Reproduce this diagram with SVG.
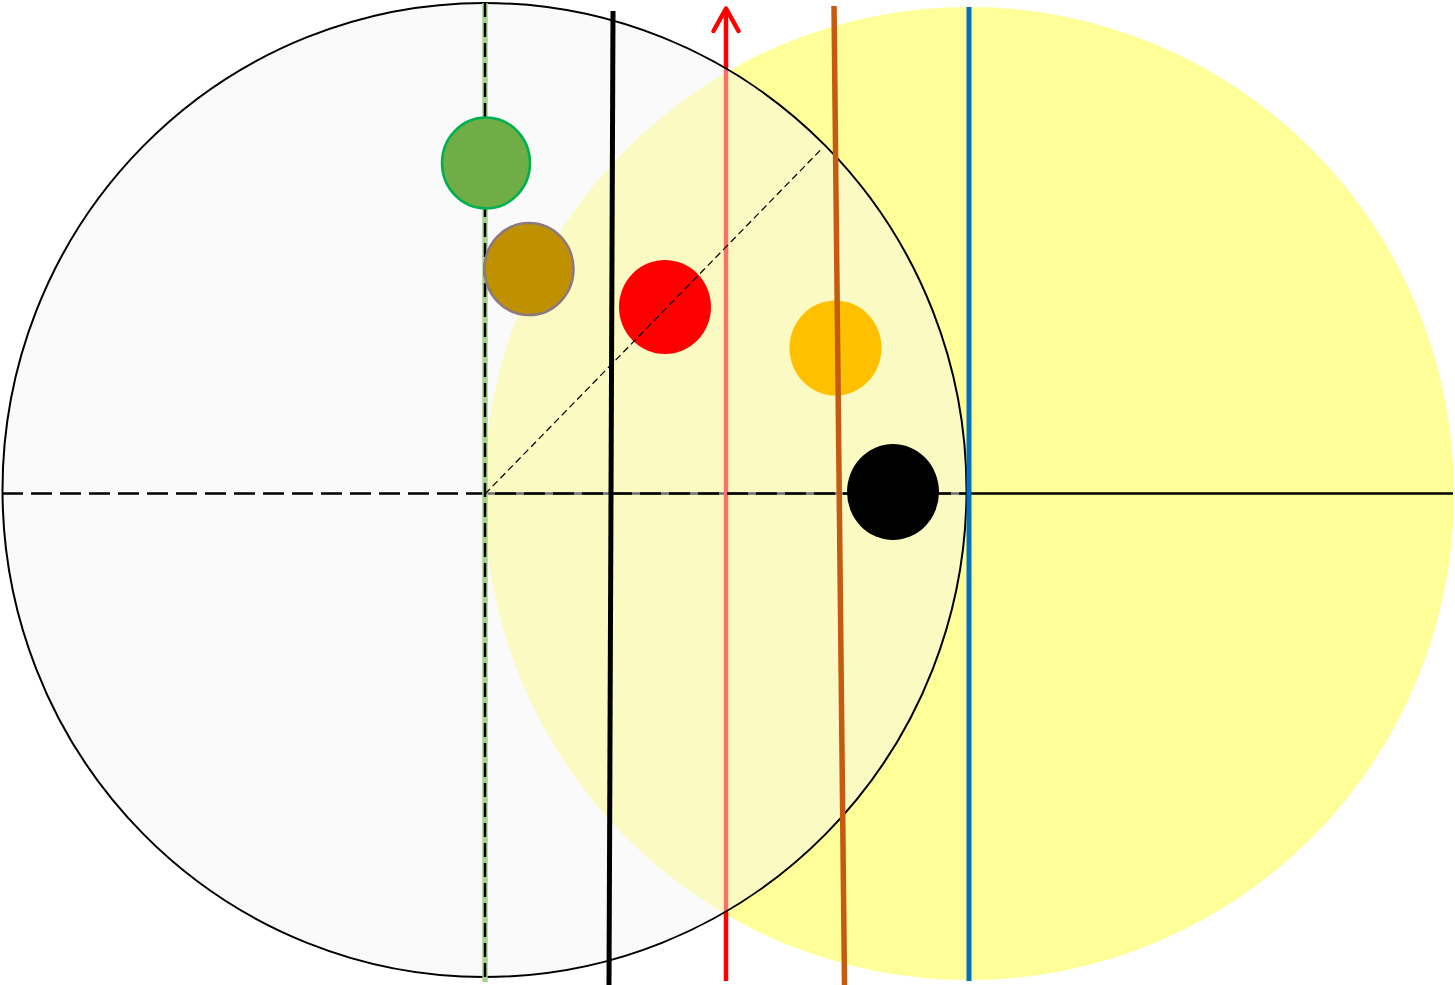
<svg xmlns="http://www.w3.org/2000/svg" width="1455" height="985" viewBox="0 0 1455 985">
<style>
.axis{stroke:#000;stroke-width:2.5;fill:none}
.dash{stroke-dasharray:21 8}
.ball{stroke:none}
.orange-line{stroke:#c55a11;stroke-width:5.5}
</style>
<rect width="1455" height="985" fill="#ffffff"/>
<g id="yellow-circle">
<ellipse cx="969" cy="493.5" rx="485" ry="486.5" fill="#ffff99"/>
</g>
<g id="connectors">
<line x1="485" y1="493.5" x2="1453" y2="493.5" class="axis"/>
<line x1="726" y1="981" x2="726" y2="12" stroke="#ff0000" stroke-width="4.5"/>
<path d="M713.5,31 L726,8.5 L738.5,31" fill="none" stroke="#ff0000" stroke-width="4.5" stroke-linecap="round" stroke-linejoin="round"/>
</g>
<g id="grey-circle">
<ellipse cx="484.5" cy="490" rx="482" ry="487" fill="#f4f4f4" fill-opacity="0.45" stroke="#000" stroke-width="2"/>
</g>
<g id="lines">
<line x1="2" y1="493.5" x2="966" y2="493.5" class="axis dash"/>
<line x1="485" y1="3" x2="485" y2="982" stroke="#a9d18e" stroke-width="5.5"/>
<line x1="485" y1="3" x2="485" y2="982" stroke="#000" stroke-width="2.5" stroke-dasharray="14 6"/>
<line x1="613" y1="11" x2="609" y2="985" stroke="#000" stroke-width="5"/>
<line x1="969" y1="7" x2="969" y2="981" stroke="#0070c0" stroke-width="5"/>
</g>
<g id="green-ball">
<ellipse cx="486" cy="163" rx="44" ry="45.5" fill="#70ad47" stroke="#00b050" stroke-width="2.5"/>
</g>
<g id="brown-ball">
<ellipse cx="529" cy="269" rx="44.5" ry="46" fill="#bf9000" stroke="#8c7a80" stroke-width="2.5"/>
</g>
<g id="red-ball">
<ellipse cx="665" cy="307" rx="46" ry="47" fill="#ff0000" class="ball"/>
</g>
<g id="orange-ball">
<ellipse cx="835.5" cy="348" rx="46" ry="47.5" fill="#ffc000" class="ball"/>
</g>
<g id="diagonal">
<line x1="485" y1="494" x2="822.5" y2="148" stroke="#000" stroke-width="1.2" stroke-dasharray="7 4"/>
</g>
<g id="orange-line">
<line x1="834" y1="6" x2="844.5" y2="985" class="orange-line"/>
</g>
<g id="black-ball">
<ellipse cx="893" cy="492" rx="46" ry="48" fill="#000" class="ball"/>
</g>
</svg>
